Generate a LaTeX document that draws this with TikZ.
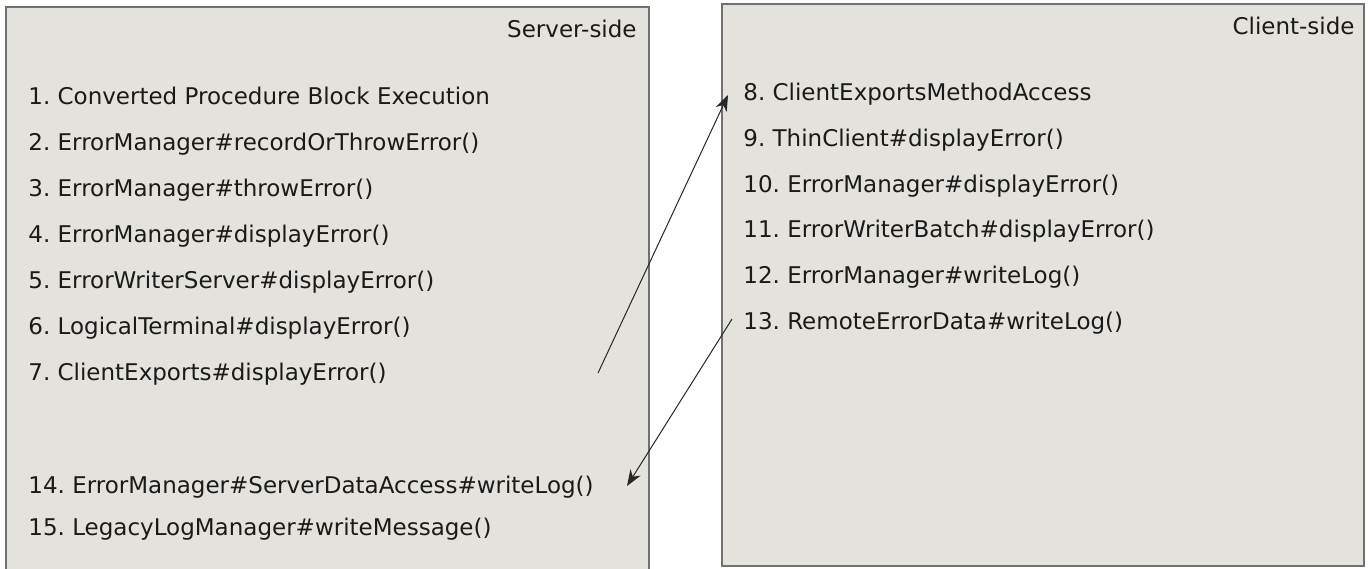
\documentclass[tikz,border=0pt]{standalone}
\usepackage{fontspec}
\setmainfont{DejaVu Sans}
\usepackage{xcolor}
\usetikzlibrary{arrows.meta}

\definecolor{panelfill}{RGB}{227,226,220}
\definecolor{panelline}{RGB}{112,112,112}
\definecolor{itemtext}{RGB}{26,26,26}

\frenchspacing

\begin{document}
\begin{tikzpicture}[x=0.5pt, y=-0.5pt,
  panel/.style={draw=panelline, fill=panelfill, line width=0.9pt},
  item/.style={anchor=west, inner sep=0pt, text height=0.73em, text depth=0pt,
    text=itemtext, font=\fontsize{11.5}{13}\selectfont},
  title/.style={item, anchor=east},
  flow/.style={-{Stealth[length=8pt, width=6pt, inset=2.5pt]}, line width=0.5pt, black!85}]

\useasboundingbox (0,0) rectangle (1370,568);

% ===== Server side =====

\draw[panel] (6,7) rectangle (649,590);
\node[title] (server) at (637,30) {Server-side};

% ===== Client side =====

\draw[panel] (722,4) rectangle (1364,566);
\node[title] (client) at (1355,27) {Client-side};

% ===== Server calls =====

\node[item] (s1) at (28,97) {1. Converted Procedure Block Execution};
\node[item] (s2) at (28,143) {2. ErrorManager\#recordOrThrowError()};
\node[item] (s3) at (28,189) {3. ErrorManager\#throwError()};
\node[item] (s4) at (28,235) {4. ErrorManager\#displayError()};
\node[item] (s5) at (28,281) {5. ErrorWriterServer\#displayError()};
\node[item] (s6) at (28,327) {6. LogicalTerminal\#displayError()};
\node[item] (s7) at (28,373) {7. ClientExports\#displayError()};

\node[item] (s14) at (28,486) {14. ErrorManager\#ServerDataAccess\#writeLog()};
\node[item] (s15) at (28,528) {15. LegacyLogManager\#writeMessage()};

% ===== Client calls =====

\node[item] (c8) at (743,93) {8. ClientExportsMethodAccess};
\node[item] (c9) at (743,139) {9. ThinClient\#displayError()};
\node[item] (c10) at (743,185) {10. ErrorManager\#displayError()};
\node[item] (c11) at (743,230) {11. ErrorWriterBatch\#displayError()};
\node[item] (c12) at (743,276) {12. ErrorManager\#writeLog()};
\node[item] (c13) at (743,322) {13. RemoteErrorData\#writeLog()};

% ===== Hand-over =====

\coordinate (from7) at (598,373);
\coordinate (to14) at (627,486);

\draw[flow] (from7) -- ([xshift=-7.5pt, yshift=-1pt]c8.west);
\draw[flow] ([xshift=-5.5pt, yshift=1.5pt]c13.west) -- (to14);

\end{tikzpicture}
\end{document}
